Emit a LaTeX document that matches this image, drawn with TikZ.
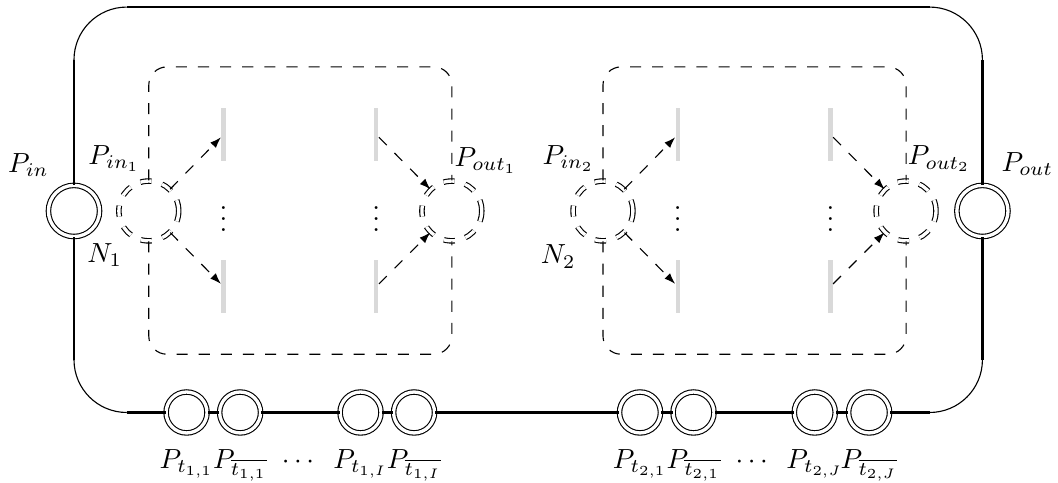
\documentclass[tikz,border=0pt]{standalone}
\usepackage{amsmath}
\usetikzlibrary{calc,arrows.meta}

\begin{document}
\begin{tikzpicture}[
		dsh/.style={dash pattern=on 4pt off 4pt},
		place/.style={circle,draw,double,double distance=1.2pt,inner sep=0pt,minimum size=0.65cm},
		smallplace/.style={place,minimum size=0.52cm},
		port/.style={place,dsh,minimum size=0.76cm},
		trans/.style={rectangle,fill=black!15,inner sep=0pt,minimum width=1.5pt,minimum height=0.67cm},
		flow/.style={dsh,-{Latex[length=4pt,width=2.8pt]}},
		frame/.style={dsh,rounded corners=0.23cm}
	]
		\useasboundingbox (0,0) rectangle (13.44,-6.13);
		% corners of the outer loop
		\coordinate (C1) at (0.94,-0.76);
		\coordinate (C2) at (1.61,-0.09);
		\coordinate (C3) at (11.81,-0.09);
		\coordinate (C4) at (12.48,-0.76);
		\coordinate (C5) at (12.48,-4.57);
		\coordinate (C6) at (11.81,-5.24);
		\coordinate (C7) at (1.61,-5.24);
		\coordinate (C8) at (0.94,-4.57);
		\coordinate (T) at (0,-0.85);
		\coordinate (B) at (0,-4.50);
		% places
		\node[place] (Pin) at (0.94,-2.68) {};
		\node[place] (Pout) at (12.48,-2.68) {};
		\node[port] (Pin1) at (1.89,-2.68) {};
		\node[port] (Pout1) at (5.74,-2.68) {};
		\node[port] (Pin2) at (7.66,-2.68) {};
		\node[port] (Pout2) at (11.51,-2.68) {};
		\node[smallplace] (Pt11) at (2.37,-5.24) {};
		\node[smallplace] (Pb11) at (3.05,-5.24) {};
		\node[smallplace] (Pt1I) at (4.58,-5.24) {};
		\node[smallplace] (Pb1I) at (5.26,-5.24) {};
		\node[smallplace] (Pt21) at (8.13,-5.24) {};
		\node[smallplace] (Pb21) at (8.81,-5.24) {};
		\node[smallplace] (Pt2J) at (10.35,-5.24) {};
		\node[smallplace] (Pb2J) at (11.04,-5.24) {};
		% transitions
		\node[trans] (A1) at (2.84,-1.71) {};
		\node[trans] (A2) at (2.84,-3.64) {};
		\node[trans] (B1) at (4.78,-1.71) {};
		\node[trans] (B2) at (4.78,-3.64) {};
		\node[trans] (A3) at (8.61,-1.71) {};
		\node[trans] (A4) at (8.61,-3.64) {};
		\node[trans] (B3) at (10.55,-1.71) {};
		\node[trans] (B4) at (10.55,-3.64) {};
		\node (D1) at (2.84,-2.68) {$\vdots$};
		\node (D2) at (4.78,-2.68) {$\vdots$};
		\node (D3) at (8.61,-2.68) {$\vdots$};
		\node (D4) at (10.55,-2.68) {$\vdots$};
		% outer loop
		\draw[thick] (Pin) -- (C1);
		\draw (C1) arc[start angle=180,end angle=90,radius=0.67];
		\draw[thick] (C2) -- (C3);
		\draw (C3) arc[start angle=90,end angle=0,radius=0.67];
		\draw[very thick] (C4) -- (Pout);
		\draw[very thick] (Pout) -- (C5);
		\draw (C5) arc[start angle=0,end angle=-90,radius=0.67];
		\draw[thick] (C6) -- (Pb2J);
		\draw[thick] (Pb2J) -- (Pt2J);
		\draw[thick] (Pt2J) -- (Pb21);
		\draw[thick] (Pb21) -- (Pt21);
		\draw[thick] (Pt21) -- (Pb1I);
		\draw[thick] (Pb1I) -- (Pt1I);
		\draw[thick] (Pt1I) -- (Pb11);
		\draw[thick] (Pb11) -- (Pt11);
		\draw[thick] (Pt11) -- (C7);
		\draw (C7) arc[start angle=270,end angle=180,radius=0.67];
		\draw[thick] (C8) -- (Pin);
		% the two sub-nets
		\draw[frame] (Pin1.north) -- (Pin1 |- T) -- (Pout1 |- T) -- (Pout1.north);
		\draw[frame] (Pin1.south) -- (Pin1 |- B) -- (Pout1 |- B) -- (Pout1.south);
		\draw[frame] (Pin2.north) -- (Pin2 |- T) -- (Pout2 |- T) -- (Pout2.north);
		\draw[frame] (Pin2.south) -- (Pin2 |- B) -- (Pout2 |- B) -- (Pout2.south);
		\draw[flow] (Pin1) -- (A1);
		\draw[flow] (Pin1) -- (A2);
		\draw[flow] (B1) -- (Pout1);
		\draw[flow] (B2) -- (Pout1);
		\draw[flow] (Pin2) -- (A3);
		\draw[flow] (Pin2) -- (A4);
		\draw[flow] (B3) -- (Pout2);
		\draw[flow] (B4) -- (Pout2);
		% labels
		\node at ($(Pin) + (-0.58,0.58)$) {$P_{in}$};
		\node at ($(Pout) + (0.57,0.60)$) {$P_{out}$};
		\node at ($(Pin1) + (-0.44,0.67)$) {$P_{in_1}$};
		\node at ($(Pin1) + (-0.56,-0.56)$) {$N_1$};
		\node at ($(Pout1) + (0.43,0.64)$) {$P_{out_1}$};
		\node at ($(Pin2) + (-0.44,0.67)$) {$P_{in_2}$};
		\node at ($(Pin2) + (-0.57,-0.58)$) {$N_2$};
		\node at ($(Pout2) + (0.42,0.66)$) {$P_{out_2}$};
		\node[anchor=base] at ($(Pt11) + (0,-0.71)$) {$P_{t_{1,1}}$};
		\node[anchor=base] at ($(Pb11) + (0,-0.71)$) {$P_{\overline{t_{1,1}}}$};
		\node[anchor=base] at ($(Pt1I) + (0,-0.71)$) {$P_{t_{1,I}}$};
		\node[anchor=base] at ($(Pb1I) + (0,-0.71)$) {$P_{\overline{t_{1,I}}}$};
		\node[anchor=base] at ($(Pt21) + (0,-0.71)$) {$P_{t_{2,1}}$};
		\node[anchor=base] at ($(Pb21) + (0,-0.71)$) {$P_{\overline{t_{2,1}}}$};
		\node[anchor=base] at ($(Pt2J) + (0,-0.71)$) {$P_{t_{2,J}}$};
		\node[anchor=base] at ($(Pb2J) + (0,-0.71)$) {$P_{\overline{t_{2,J}}}$};
		\node[anchor=base] at ($(Pb11)!0.5!(Pt1I) + (0,-0.71)$) {$\cdots$};
		\node[anchor=base] at ($(Pb21)!0.5!(Pt2J) + (0,-0.71)$) {$\cdots$};
	\end{tikzpicture}
\end{document}
